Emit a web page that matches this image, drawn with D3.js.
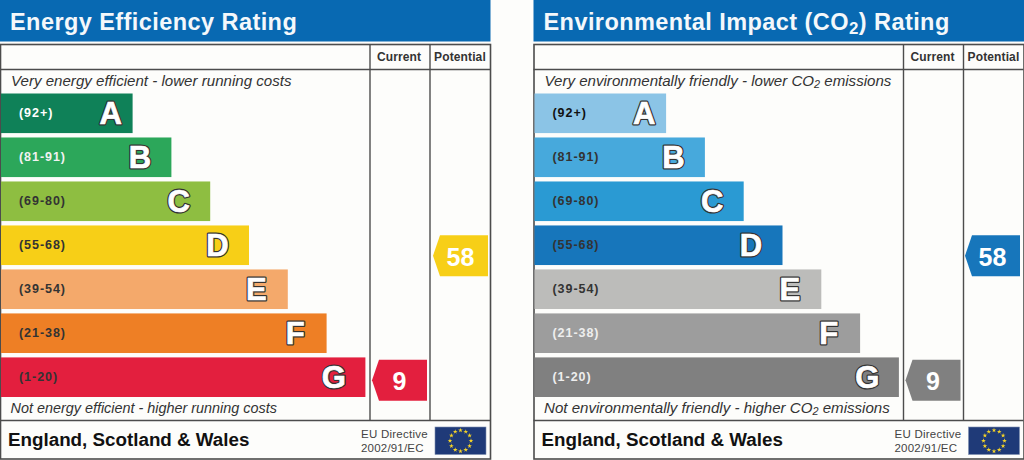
<!DOCTYPE html>
<html>
<head>
<meta charset="utf-8">
<script src="https://cdn.jsdelivr.net/npm/d3@7"></script>
<style>
  html, body { margin: 0; padding: 0; background: #fdfdfb; }
  svg { display: block; }
  text { font-family: "Liberation Sans", Arial, sans-serif; }
</style>
</head>
<body>
<div id="chart"></div>
<script>
const bands = ["A", "B", "C", "D", "E", "F", "G"];
const ranges = ["(92+)", "(81-91)", "(69-80)", "(55-68)", "(39-54)", "(21-38)", "(1-20)"];
const levels = [1, 2, 3, 4, 5, 6, 7];
const bandFloors = [92, 81, 69, 55, 39, 21, 1];

const energyColors = ["#0f8158", "#2ca75a", "#8ebe41", "#f7cf17", "#f4a96b", "#ee7f25", "#e31f3e"];
const envColors = ["#8bc4e6", "#47a9dc", "#2a9ad3", "#1776bb", "#bcbcba", "#9d9d9d", "#808080"];
const energyRangeColors = ["#ffffff", "#f2f2f2", "#333333", "#333333", "#333333", "#333333", "#333333"];
const envRangeColors = ["#111111", "#333333", "#333333", "#333333", "#333333", "#eeeeee", "#eeeeee"];

const energyCurrent = 9;
const energyPotential = 58;
const envCurrent = 9;
const envPotential = 58;

const W = 1024, H = 460;

const svg = d3.select("#chart").append("svg")
  .attr("width", W)
  .attr("height", H);

// shared scales, panels only differ by their translate
const yBand = d3.scaleBand().domain(bands).range([93.5, 397]).paddingInner(0.1).paddingOuter(0);
const xBar = d3.scaleLinear().domain([0, 7]).range([92.8, 364.4]);
const yPointer = d3.scaleLinear().domain([0, 100]).range([403, 149]);

function bandOf(score) {
  return bandFloors.findIndex(f => score >= f);
}

// text with the CO2 subscript in it
function appendParts(t, parts, subSize) {
  parts.forEach(p => {
    if (p === "2") {
      t.append("tspan").attr("font-size", `${subSize}em`).attr("dy", "0.22em").text("2");
    } else {
      const s = t.append("tspan").text(p);
      if (t.selectAll("tspan").size() > 1) s.attr("dy", "-0.16em");
    }
  });
}

function drawPanel(cfg) {
  const g = svg.append("g").attr("transform", `translate(${cfg.x},0)`);

  g.append("rect").attr("x", 0).attr("y", 0).attr("width", 490.5).attr("height", 41.5).attr("fill", "#0869b2");
  const title = g.append("text")
    .attr("x", 10)
    .attr("y", 30)
    .attr("fill", "#f4f8fb")
    .attr("font-size", 23.5)
    .attr("font-weight", 700)
    .attr("letter-spacing", 0.43);
  appendParts(title, cfg.title, 0.72);

  // frame and grid lines
  const line = "#4c4c4c";
  g.append("rect").attr("x", 0.5).attr("y", 44.5).attr("width", 490).attr("height", 414.5)
    .attr("fill", "#fdfdfb").attr("stroke", line).attr("stroke-width", 1.6);
  g.append("line").attr("x1", 0).attr("x2", 490).attr("y1", 69.5).attr("y2", 69.5).attr("stroke", line).attr("stroke-width", 1.4);
  g.append("line").attr("x1", 0).attr("x2", 490).attr("y1", 420.5).attr("y2", 420.5).attr("stroke", line).attr("stroke-width", 1.4);
  [370, 430].forEach(x => {
    g.append("line").attr("x1", x).attr("x2", x).attr("y1", 44).attr("y2", 420.5).attr("stroke", line).attr("stroke-width", 1.4);
  });

  g.selectAll("text.col").data([["Current", 399], ["Potential", 460]]).enter()
    .append("text")
    .attr("class", "col")
    .attr("x", d => d[1])
    .attr("y", 61)
    .attr("text-anchor", "middle")
    .attr("font-size", 12)
    .attr("font-weight", 700)
    .attr("letter-spacing", 0.12)
    .attr("fill", "#333")
    .text(d => d[0]);

  const top = g.append("text").attr("x", 11).attr("y", 86)
    .attr("font-size", 15.1).attr("font-style", "italic").attr("fill", "#333");
  appendParts(top, cfg.topNote, 0.72);
  const bottom = g.append("text").attr("x", 10.5).attr("y", 413)
    .attr("font-size", cfg.bottomSize).attr("font-style", "italic").attr("fill", "#333");
  appendParts(bottom, cfg.bottomNote, 0.72);

  // rating bars
  const rows = g.selectAll("g.row").data(bands).enter().append("g").attr("class", "row");
  rows.append("rect")
    .attr("x", 1)
    .attr("y", d => yBand(d))
    .attr("width", (d, i) => xBar(levels[i]))
    .attr("height", yBand.bandwidth())
    .attr("fill", (d, i) => cfg.colors[i]);
  rows.append("text")
    .attr("x", 19)
    .attr("y", d => yBand(d) + yBand.bandwidth() / 2 + 3.8)
    .attr("font-size", 12.5)
    .attr("font-weight", 700)
    .attr("letter-spacing", 0.95)
    .attr("fill", (d, i) => cfg.rangeColors[i])
    .text((d, i) => ranges[i]);

  // letters are white with a dark outline, the white stroke fattens them
  const letterX = (d, i) => xBar(levels[i]) + 1 - (d === "A" ? 22 : 31.5);
  const letterY = d => yBand(d) + yBand.bandwidth() / 2 + 11;
  rows.append("text")
    .attr("x", letterX)
    .attr("y", letterY)
    .attr("text-anchor", "middle")
    .attr("font-size", 31)
    .attr("font-weight", 700)
    .attr("fill", "#333")
    .attr("stroke", "#333")
    .attr("stroke-width", 3.2)
    .attr("stroke-linejoin", "round")
    .text(d => d);
  rows.append("text")
    .attr("x", letterX)
    .attr("y", letterY)
    .attr("text-anchor", "middle")
    .attr("font-size", 31)
    .attr("font-weight", 700)
    .attr("fill", "#fff")
    .attr("stroke", "#fff")
    .attr("stroke-width", 0.7)
    .text(d => d);

  // current / potential pointers
  drawPointer(g, cfg.current, 372, 427, cfg.colors);
  drawPointer(g, cfg.potential, cfg.potentialLeft, cfg.potentialLeft + 55, cfg.colors);

  // footer
  g.append("text").attr("x", 8).attr("y", 446)
    .attr("font-size", 18.8).attr("font-weight", 700).attr("fill", "#111")
    .text("England, Scotland & Wales");
  g.append("text").attr("x", 361).attr("y", 438)
    .attr("font-size", 11.5).attr("fill", "#444").attr("letter-spacing", 0.25).text("EU Directive");
  g.append("text").attr("x", 361).attr("y", 452)
    .attr("font-size", 11.5).attr("fill", "#444").attr("letter-spacing", 0.2).text("2002/91/EC");
  drawFlag(g);
}

function drawPointer(g, score, left, right, colors) {
  const h = 41;
  const cy = yPointer(score);
  const shoulder = left + 7;
  const path = d3.path();
  path.moveTo(left, cy);
  path.lineTo(shoulder, cy - h / 2);
  path.lineTo(right, cy - h / 2);
  path.lineTo(right, cy + h / 2);
  path.lineTo(shoulder, cy + h / 2);
  path.closePath();
  g.append("path").attr("d", path.toString()).attr("fill", colors[bandOf(score)]);
  g.append("text")
    .attr("x", (shoulder + right) / 2 - 3.5)
    .attr("y", cy + 10)
    .attr("text-anchor", "middle")
    .attr("font-size", 25)
    .attr("font-weight", 700)
    .attr("fill", "#fff")
    .text(score);
}

function drawFlag(g) {
  const fx = 435, fy = 427, fw = 51, fh = 27.5;
  g.append("rect").attr("x", fx).attr("y", fy).attr("width", fw).attr("height", fh)
    .attr("fill", "#1f3a78").attr("stroke", "#7f8fb0").attr("stroke-width", 0.6);
  const star = d3.symbol().type(d3.symbolStar).size(7);
  d3.range(12).forEach(i => {
    const a = i / 12 * 2 * Math.PI;
    g.append("path")
      .attr("d", star())
      .attr("transform", `translate(${fx + fw / 2 + 10.5 * Math.sin(a)},${fy + fh / 2 - 10.5 * Math.cos(a)})`)
      .attr("fill", "#f5d327");
  });
}

drawPanel({
  x: 0,
  title: ["Energy Efficiency Rating"],
  topNote: ["Very energy efficient - lower running costs"],
  bottomNote: ["Not energy efficient - higher running costs"],
  bottomSize: 14.4,
  colors: energyColors,
  rangeColors: energyRangeColors,
  current: energyCurrent,
  potential: energyPotential,
  potentialLeft: 433
});

drawPanel({
  x: 533.5,
  title: ["Environmental Impact (CO", "2", ") Rating"],
  topNote: ["Very environmentally friendly - lower CO", "2", " emissions"],
  bottomNote: ["Not environmentally friendly - higher CO", "2", " emissions"],
  bottomSize: 15.1,
  colors: envColors,
  rangeColors: envRangeColors,
  current: envCurrent,
  potential: envPotential,
  potentialLeft: 431.5
});
</script>
</body>
</html>
